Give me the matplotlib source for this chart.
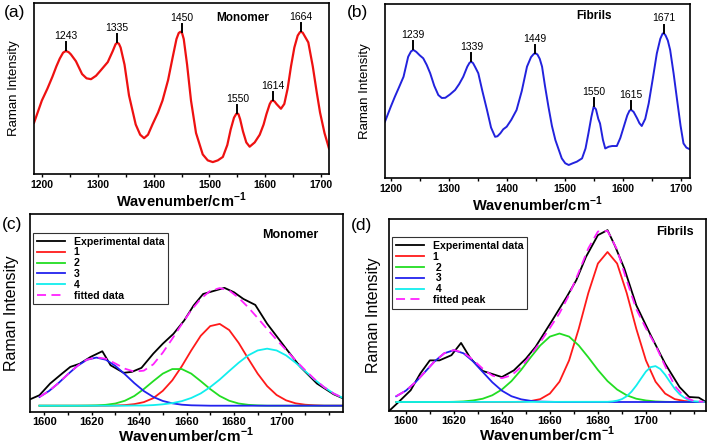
import matplotlib
matplotlib.use("Agg")
import matplotlib.pyplot as plt
import numpy as np
from matplotlib.ticker import MultipleLocator

plt.rcParams['font.family'] = ['Liberation Sans', 'DejaVu Sans']
plt.rcParams['mathtext.fontset'] = 'custom'
plt.rcParams['mathtext.rm'] = 'Liberation Sans'
plt.rcParams['mathtext.bf'] = 'Liberation Sans:bold'

# ---- (a) monomer spectrum ----
a_wn = [1186, 1200, 1210, 1219, 1226, 1232, 1238, 1243, 1248, 1252, 1261, 1272, 1280, 1288,
        1297, 1305, 1318, 1327, 1332, 1335, 1338, 1341, 1348, 1356, 1368, 1376, 1383, 1390,
        1398, 1408, 1416, 1426, 1434, 1441, 1445, 1448, 1451, 1454, 1460, 1467, 1476, 1488,
        1497, 1506, 1515, 1524, 1532, 1538, 1544, 1548, 1550, 1552, 1555, 1560, 1566, 1572,
        1581, 1590, 1597, 1602, 1608, 1611, 1614, 1617, 1620, 1628, 1634, 1640, 1646, 1652,
        1658, 1662, 1664, 1667, 1670, 1677, 1685, 1692, 1698, 1706, 1714]
a_int = [30, 43, 50, 57, 63, 67.5, 71, 72, 71.3, 70, 66, 58.5, 56, 55.5,
         57.5, 60.5, 65.5, 72, 76, 76.8, 76.2, 74, 64, 46, 29, 23, 21, 23,
         29, 36, 43, 55, 68, 79, 82.5, 83.2, 82.5, 79, 64, 43, 24, 11.5,
         8, 7, 8, 10, 17, 26, 33, 35.2, 35.5, 35, 32, 25, 18.5, 16,
         18.5, 23, 29, 35, 41, 42.7, 43, 42.3, 41, 38.2, 41, 50, 63, 74,
         81, 83, 83.2, 82.7, 81, 77, 63, 48, 36, 24, 15]
a_peaks = [1243, 1335, 1450, 1550, 1614, 1664]

# ---- (b) fibril spectrum ----
b_wn = [1190, 1200, 1207, 1214, 1222, 1230, 1235, 1239, 1244, 1250, 1256, 1262, 1268, 1275,
        1282, 1288, 1294, 1302, 1311, 1318, 1325, 1332, 1336, 1339, 1342, 1346, 1351, 1358,
        1366, 1373, 1380, 1384, 1389, 1394, 1400, 1408, 1417, 1426, 1435, 1442, 1447, 1450,
        1453, 1457, 1461, 1466, 1472, 1478, 1484, 1495, 1501, 1507, 1514, 1521, 1530, 1536,
        1541, 1546, 1550, 1554, 1558, 1561, 1566, 1570, 1576, 1582, 1590, 1596, 1602, 1608,
        1612, 1615, 1619, 1625, 1629, 1633, 1639, 1645, 1652, 1659, 1665, 1669, 1671, 1674,
        1678, 1682, 1688, 1694, 1700, 1705, 1710, 1716]
b_int = [32.4, 41, 46.7, 52, 58.2, 69.7, 72.8, 73.6, 72.5, 70.5, 68.8, 65, 60.2, 53,
         47.7, 46, 46.1, 48, 50.6, 54, 58.2, 64, 66.3, 66.8, 66, 63.5, 60.2, 50,
         39.1, 29, 23.7, 24, 25.7, 28, 29.5, 33.5, 39.1, 50, 64, 69.5, 71.4, 71.6,
         71, 68.5, 64, 53, 41, 30, 21.8, 11.3, 8.5, 7.5, 8.5, 9.4, 11.3, 17,
         25.7, 35, 41, 39.5, 34, 31.4, 22, 17, 18, 18.4, 18.4, 23, 29.5, 36,
         38.8, 39.1, 38, 34.3, 31.5, 29.9, 34, 42.9, 57, 71.6, 80, 83, 83.2, 82,
         79, 73.6, 60, 44.8, 30, 19.9, 17.5, 16.5]
b_peaks = [1239, 1339, 1449, 1550, 1615, 1671]

# ---- (c) monomer amide I fit ----
c_exp_wn = [1594, 1598, 1602.5, 1607.5, 1611, 1615, 1619.5, 1624.5, 1628, 1633.5, 1637, 1641,
            1646, 1650, 1654.5, 1659, 1663, 1667, 1676, 1680, 1684, 1689, 1694, 1702, 1708,
            1715, 1722, 1726]
c_exp = [6.4, 8.5, 14.4, 19.4, 22.8, 24.4, 27.8, 30.7, 23.6, 19.8, 20.3, 22.3,
         29.5, 34.5, 39.5, 46.2, 53.8, 59.6, 62.7, 60.5, 57.1, 54.1, 44.6, 32, 22.8,
         14.4, 9, 6.9]
c_wn = list(range(1598, 1727, 4))
c_p1 = [3.2, 3.2, 3.2, 3.2, 3.2, 3.2, 3.2, 3.2, 3.3, 3.5, 4.0, 5.0, 7.0, 10.7, 16.0, 23.1,
        31.1, 38.5, 43.4, 44.5, 41.4, 34.9, 27.0, 19.4, 13.1, 8.6, 5.9, 4.4, 3.7, 3.4,
        3.2, 3.2, 3.2]
c_p2 = [3.2, 3.2, 3.2, 3.2, 3.2, 3.25, 3.35, 3.65, 4.3, 5.7, 8.1, 11.6, 15.6, 19.4, 21.7,
        21.7, 19.4, 15.6, 11.6, 8.1, 5.7, 4.3, 3.65, 3.35, 3.2, 3.2, 3.2, 3.2, 3.2, 3.2,
        3.2, 3.2, 3.2]
c_p3 = [7.6, 10.6, 14.6, 19.1, 23.3, 26.4, 27.5, 26.4, 23.3, 19.1, 14.6, 10.6, 7.6, 5.6,
        4.4, 3.7, 3.4, 3.3, 3.2, 3.2, 3.2, 3.2, 3.2, 3.2, 3.2, 3.2, 3.2, 3.2, 3.2, 3.2,
        3.2, 3.2, 3.2]
c_p4 = [3.2, 3.2, 3.2, 3.2, 3.2, 3.2, 3.2, 3.2, 3.2, 3.2, 3.3, 3.3, 3.5, 3.9, 4.5, 5.5,
        7.1, 9.4, 12.6, 16.4, 20.7, 24.9, 28.6, 31.1, 32.0, 31.1, 28.6, 24.9, 20.7, 16.4,
        12.6, 9.4, 7.1]
c_fit = [7.6, 10.6, 14.6, 19.1, 23.3, 26.45, 27.65, 26.9, 24.5, 21.9, 20.4, 20.9, 24.1,
         30.0, 37.0, 44.4, 51.4, 57.2, 61.2, 62.6, 61.4, 57.7, 52.9, 47.5, 41.9, 36.5,
         31.3, 26.1, 21.2, 16.6, 12.6, 9.4, 7.1]

# ---- (d) fibril amide I fit ----
d_exp_wn = [1593, 1597, 1602, 1606, 1610, 1614, 1619, 1623, 1627, 1632, 1640, 1645, 1650,
            1654, 1661, 1667, 1671, 1675, 1680, 1684, 1687, 1691, 1696, 1702, 1708, 1714,
            1718, 1722, 1725]
d_exp = [0, 4.7, 10.8, 19.5, 26.4, 26.4, 29.1, 35.5, 27.3, 20.9, 17.7, 21.2, 27.3,
         33.4, 47.3, 59.5, 68.2, 80.3, 91.7, 94.3, 86.4, 74.3, 55.1, 39.5, 24.7, 12.5,
         7.3, 7.0, 4.7]
d_wn = list(range(1596, 1725, 4))
d_p1 = [4.7] * 13 + [4.8, 5.2, 6.2, 9.1, 15.3, 26.4, 42.8, 61.5, 76.9, 82.9, 76.9, 61.5,
                     42.8, 26.4, 15.3, 9.1, 6.2, 5.2, 4.8, 4.7]
d_p2 = [4.7, 4.7, 4.7, 4.7, 4.7, 4.7, 4.8, 5.0, 5.5, 6.4, 8.2, 11.2, 15.6, 21.4, 28.0,
        34.2, 38.8, 40.4, 38.8, 34.2, 28.0, 21.4, 15.6, 11.2, 8.2, 6.4, 5.5, 5.0, 4.8,
        4.7, 4.7, 4.7, 4.7]
d_p3 = [7.7, 10.6, 15.0, 20.4, 25.9, 30.1, 31.7, 30.1, 25.9, 20.4, 15.0, 10.6, 7.7, 6.1,
        5.3, 4.9, 4.8] + [4.7] * 16
d_p4_wn = [1596] + list(range(1684, 1725, 2))
d_p4 = [4.7, 4.8, 5.0, 5.4, 6.2, 7.7, 10.1, 13.3, 17.0, 20.6, 22.9, 23.4, 21.9, 18.9,
        15.2, 11.6, 8.8, 6.9, 5.7, 5.1, 4.9, 4.8]
d_fit = [7.7, 10.6, 15.0, 20.4, 25.9, 30.1, 31.8, 30.4, 26.7, 22.1, 18.5, 17.1, 18.6,
         22.9, 29.1, 35.9, 43.3, 51.0, 60.5, 72.3, 84.8, 93.6, 93.9, 84.1, 68.0, 53.1,
         43.1, 34.3, 23.4, 13.1, 7.4, 5.2, 4.8]

ticks_top = [1200, 1300, 1400, 1500, 1600, 1700]
ticks_bot = [1600, 1620, 1640, 1660, 1680, 1700]
xlabel = r'Wavenumber/cm$^{\mathbf{-1}}$'


def frame(ax, xlim, ticks, minor, tsize, pad):
    ax.set_xlim(xlim)
    ax.set_ylim(0, 100)
    ax.set_yticks([])
    ax.set_xticks(ticks, [str(t) for t in ticks], fontweight='bold')
    ax.xaxis.set_minor_locator(MultipleLocator(minor))
    ax.tick_params(axis='x', which='both', direction='out', length=2.5, width=1,
                   labelsize=tsize, pad=pad)
    for s in ax.spines.values():
        s.set_linewidth(1.2)


def mark_peaks(ax, wn, inten, peaks):
    for p in peaks:
        y = np.interp(p, wn, inten)
        ax.plot([p, p], [y + 0.3, y + 5], color='k', lw=1.4)
        ax.text(p, y + 5.6, str(p), ha='center', va='bottom', fontsize=7.5)


def legend(ax, anchor):
    leg = ax.legend(loc='upper left', bbox_to_anchor=anchor, borderaxespad=0,
                    prop={'size': 7.6, 'weight': 'bold'}, handlelength=2.7,
                    labelspacing=0.08, fancybox=False, edgecolor='k', borderpad=0.35,
                    handletextpad=0.8)
    leg.get_frame().set_linewidth(0.8)


fig = plt.figure(figsize=(7.09, 4.44), dpi=100)

# (a)
ax = fig.add_axes([0.048, 0.608, 0.416, 0.385])
frame(ax, (1186, 1714), ticks_top, 50, 7.5, 2)
ax.plot(a_wn, a_int, color='#ee1111', lw=1.6)
mark_peaks(ax, a_wn, a_int, a_peaks)
ax.text(0.708, 0.915, 'Monomer', transform=ax.transAxes, ha='center', va='center',
        fontsize=8.5, fontweight='bold')
ax.set_xlabel(xlabel, fontsize=10.5, fontweight='bold', labelpad=0.5)
ax.set_ylabel('Raman Intensity', fontsize=9.5, labelpad=10)

# (b)
ax = fig.add_axes([0.543, 0.599, 0.430, 0.392])
frame(ax, (1190, 1716), ticks_top, 50, 7.5, 2)
ax.plot(b_wn, b_int, color='#2222dd', lw=1.4)
mark_peaks(ax, b_wn, b_int, b_peaks)
ax.text(0.685, 0.931, 'Fibrils', transform=ax.transAxes, ha='center', va='center',
        fontsize=8.5, fontweight='bold')
ax.set_xlabel(xlabel, fontsize=10.5, fontweight='bold', labelpad=0.5)
ax.set_ylabel('Raman Intensity', fontsize=9.5, labelpad=10)

# (c)
ax = fig.add_axes([0.0423, 0.072, 0.4415, 0.446])
frame(ax, (1594, 1726), ticks_bot, 10, 8, 1)
ax.plot(c_exp_wn, c_exp, color='k', lw=1.3, label='Experimental data')
ax.plot(c_wn, c_p1, color='#ff1a1a', lw=1.3, label='1')
ax.plot(c_wn, c_p2, color='#22dd22', lw=1.3, label='2')
ax.plot(c_wn, c_p3, color='#2222ee', lw=1.3, label='3')
ax.plot(c_wn, c_p4, color='#11eeee', lw=1.3, label='4')
ax.plot(c_wn, c_fit, color='#ff22ff', lw=1.3, ls=(0, (5, 3)), label='fitted data')
ax.text(0.83, 0.894, 'Monomer', transform=ax.transAxes, ha='center', va='center',
        fontsize=9, fontweight='bold')
legend(ax, (0.01, 0.905))
ax.set_xlabel(xlabel, fontsize=11, fontweight='bold', labelpad=-1)
ax.set_ylabel('Raman Intensity', fontsize=11.5, labelpad=8)

# (d)
ax = fig.add_axes([0.5487, 0.0743, 0.447, 0.432])
frame(ax, (1593, 1725), ticks_bot, 10, 8, 1)
ax.plot(d_exp_wn, d_exp, color='k', lw=1.3, label='Experimental data')
ax.plot(d_wn, d_p1, color='#ff1a1a', lw=1.3, label='1')
ax.plot(d_wn, d_p2, color='#22dd22', lw=1.3, label=' 2')
ax.plot(d_wn, d_p3, color='#2222ee', lw=1.3, label=' 3')
ax.plot(d_p4_wn, d_p4, color='#11eeee', lw=1.3, label=' 4')
ax.plot(d_wn, d_fit, color='#ff22ff', lw=1.3, ls=(0, (5, 3)), label='fitted peak')
ax.text(0.902, 0.932, 'Fibrils', transform=ax.transAxes, ha='center', va='center',
        fontsize=9, fontweight='bold')
legend(ax, (0.01, 0.906))
ax.set_xlabel(xlabel, fontsize=11, fontweight='bold', labelpad=-1)
ax.set_ylabel('Raman Intensity', fontsize=11.5, labelpad=6)

# panel letters
fig.text(15 / 709, 1 - 12.5 / 444, '(a)', ha='center', va='center', fontsize=12.5)
fig.text(358 / 709, 1 - 12 / 444, '(b)', ha='center', va='center', fontsize=12.5)
fig.text(12 / 709, 1 - 224 / 444, '(c)', ha='center', va='center', fontsize=12.5)
fig.text(362 / 709, 1 - 225 / 444, '(d)', ha='center', va='center', fontsize=12.5)

fig.savefig('out.png', dpi=100)
